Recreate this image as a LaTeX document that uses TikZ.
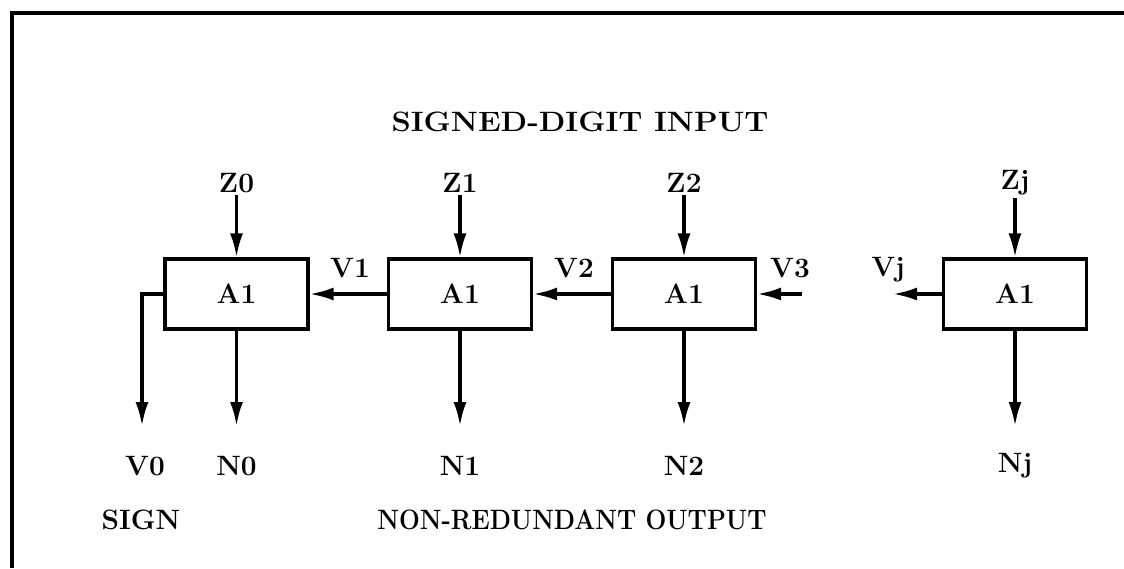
\documentclass[tikz,border=0pt]{standalone}
\usetikzlibrary{arrows.meta}
\begin{document}
\begin{tikzpicture}[x=0.5pt,y=-0.5pt,
  cell/.style={draw,line width=1.6pt,minimum width=71.5pt,minimum height=35pt,inner sep=0pt,font=\fontsize{14}{16}\selectfont\bfseries},
  lbl/.style={font=\fontsize{14}{16}\selectfont\bfseries,inner sep=1pt},
  arr/.style={line width=1.6pt,-{Latex[length=12pt,width=6.5pt]}}]
\useasboundingbox (0,0) rectangle (1124,568);
\draw[line width=2pt] (12,568) -- (12,13) -- (1124,13);
% boxes
\node[cell] (b1) at (236.5,294) {A1};
\node[cell] (b2) at (460,294) {A1};
\node[cell] (b3) at (684,294) {A1};
\node[cell] (b4) at (1015,294) {A1};
% titles
\node[lbl] (tin) at (580,122) {\scalebox{1.1}[1]{SIGNED-DIGIT INPUT}};
\node[lbl] (tout) at (572,520) {\scalebox{0.88}[1]{NON-REDUNDANT OUTPUT}};
\node[lbl] (tsign) at (141,520) {SIGN};
% inputs
\node[lbl] (z0) at (236.5,183) {Z0};
\node[lbl] (z1) at (460,183) {Z1};
\node[lbl] (z2) at (684,183) {Z2};
\node[lbl] (zj) at (1015,183) {Zj};
\draw[arr] (z0.south) -- (b1.north);
\draw[arr] (z1.south) -- (b2.north);
\draw[arr] (z2.south) -- (b3.north);
\draw[arr] (zj.south) -- (b4.north);
% outputs
\coordinate (n0e) at (236.5,426);
\coordinate (n1e) at (460,426);
\coordinate (n2e) at (684,426);
\coordinate (nje) at (1015,426);
\coordinate (v0e) at (142,426);
\draw[arr] (b1.south) -- (n0e);
\draw[arr] (b2.south) -- (n1e);
\draw[arr] (b3.south) -- (n2e);
\draw[arr] (b4.south) -- (nje);
\draw[arr] (b1.west) -| (v0e);
\node[lbl] (n0) at (236.5,466) {N0};
\node[lbl] (n1) at (460,466) {N1};
\node[lbl] (n2) at (684,466) {N2};
\node[lbl] (nj) at (1015,466) {Nj};
\node[lbl] (v0) at (145,466) {V0};
% carries
\draw[arr] (b2.west) -- (b1.east);
\draw[arr] (b3.west) -- (b2.east);
\coordinate (v3s) at (802,294);
\coordinate (vje) at (893,294);
\draw[arr] (v3s) -- (b3.east);
\draw[arr] (b4.west) -- (vje);
\node[lbl] (v1) at (350,268) {V1};
\node[lbl] (v2) at (574,268) {V2};
\node[lbl] (v3) at (790,268) {V3};
\node[lbl] (vj) at (888,270) {Vj};
\end{tikzpicture}
\end{document}
